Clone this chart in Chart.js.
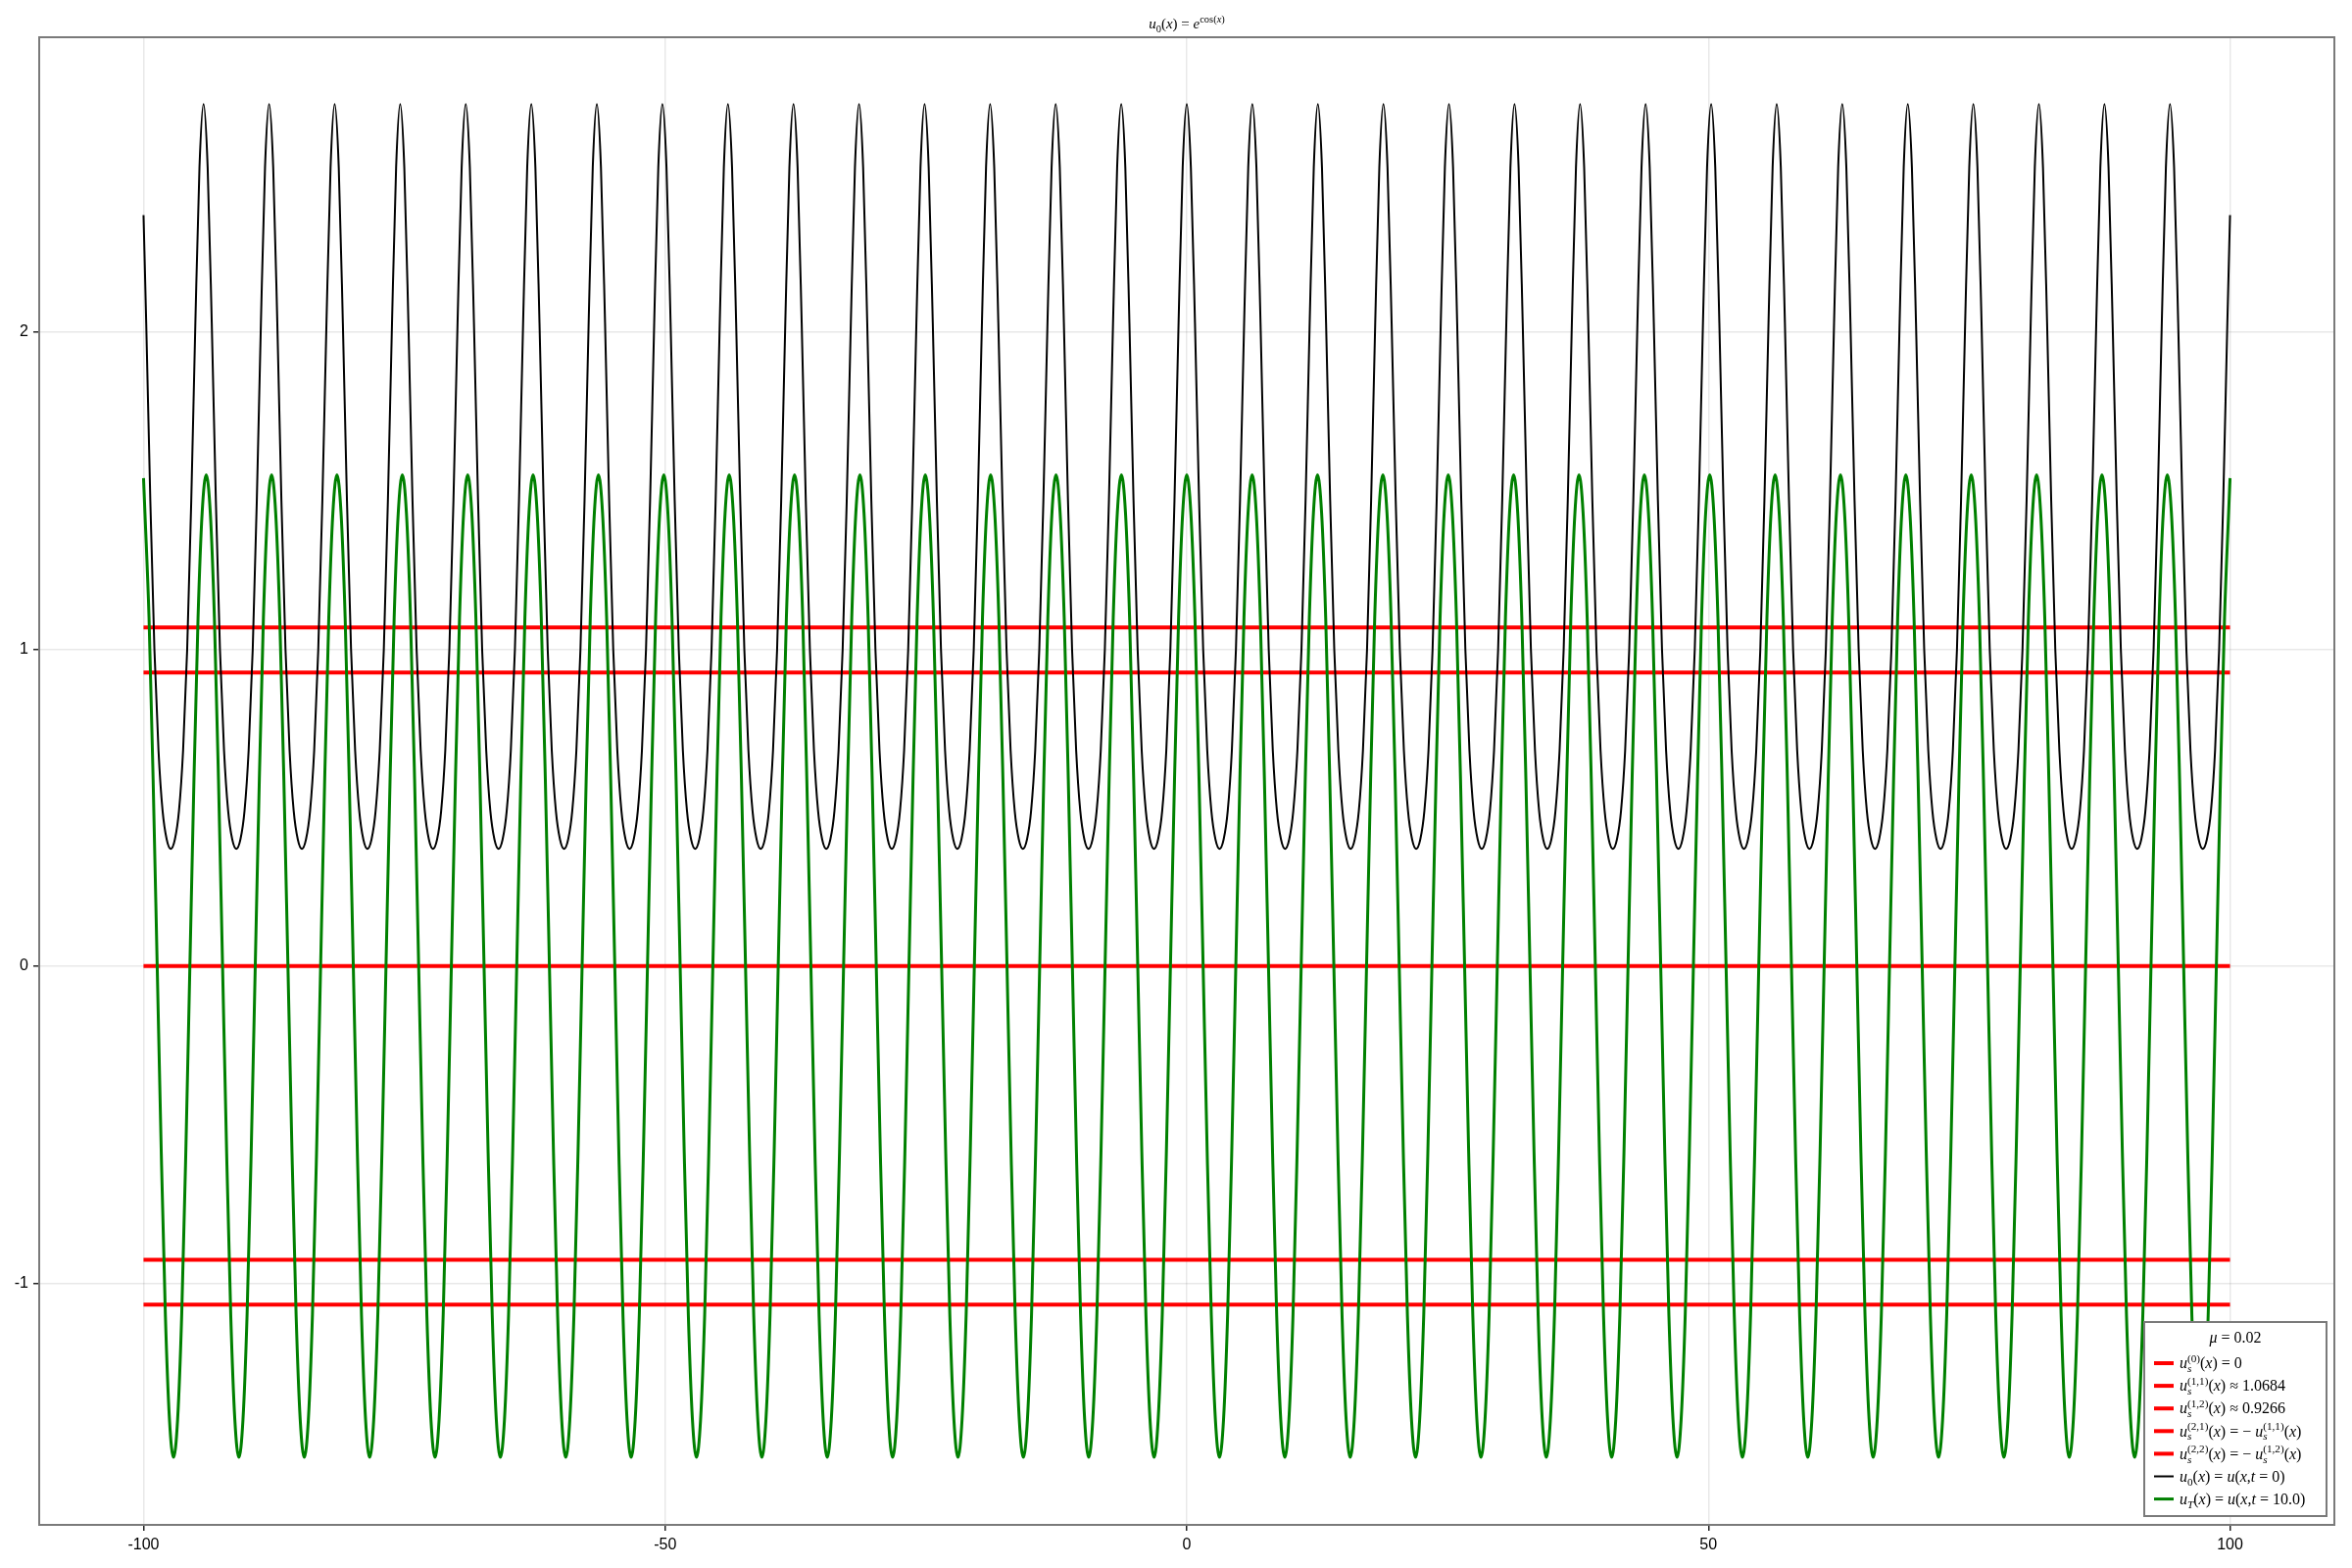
<!DOCTYPE html>
<html>
<head>
<meta charset="utf-8">
<script src="https://cdn.jsdelivr.net/npm/chart.js@4.4.1/dist/chart.umd.min.js"></script>
<style>
html, body { margin: 0; padding: 0; background: #fff; }
</style>
</head>
<body>
<canvas id="c" width="2400" height="1600"></canvas>
<script>
// values
const xRange = [-100, 100]
const xTicks = [-100, -50, 0, 50, 100]
const yTicks = [-1, 0, 1, 2]

// u0 = e^cos(x): one period (peak to peak), 16 samples
const u0Period = 6.283
const u0Profile = [2.72, 2.52, 2.03, 1.47, 1.00, 0.68, 0.49, 0.40, 0.37, 0.40, 0.49, 0.68, 1.00, 1.47, 2.03, 2.52]
const u0Ends = [2.37, 2.37]

// uT at t = 10: one wavelength (peak to peak), 16 samples
const uTPeriod = 6.266
const uTProfile = [1.55, 1.43, 1.10, 0.59, 0.00, -0.59, -1.10, -1.43, -1.55, -1.43, -1.10, -0.59, 0.00, 0.59, 1.10, 1.43]
const uTEnds = [1.54, 1.54]

// steady states
const steadyValues = [0, 1.0684, 0.9266, -1.0684, -0.9266]

const titleText = 'u_{0}(x) = e^{\\cos(x)}'
const legendTitle = 'μ = 0.02'
const legendLabels = [
	'u_{s}^{(0)}(x) = 0',
	'u_{s}^{(1,1)}(x) ≈ 1.0684',
	'u_{s}^{(1,2)}(x) ≈ 0.9266',
	'u_{s}^{(2,1)}(x) = − u_{s}^{(1,1)}(x)',
	'u_{s}^{(2,2)}(x) = − u_{s}^{(1,2)}(x)',
	'u_{0}(x) = u(x,t = 0)',
	'u_{T}(x) = u(x,t = 10.0)'
]

const RED = '#ff0000'
const GREEN = '#008000'
const BLACK = '#000000'

function buildSeries (period, profile, ends) {
	const pts = [{ x: xRange[0], y: ends[0] }]
	const step = period / profile.length
	const kStart = Math.floor(xRange[0] / period) - 1
	const kEnd = Math.ceil(xRange[1] / period) + 1
	for (let k = kStart; k <= kEnd; k++) {
		profile.forEach((v, j) => {
			const x = k * period + j * step
			if (x > xRange[0] + 0.05 && x < xRange[1] - 0.05) pts.push({ x: x, y: v })
		})
	}
	pts.push({ x: xRange[1], y: ends[1] })
	pts.sort((a, b) => a.x - b.x)
	return pts
}

const datasets = []
steadyValues.forEach((v, i) => {
	datasets.push({
		label: legendLabels[i],
		data: [{ x: xRange[0], y: v }, { x: xRange[1], y: v }],
		borderColor: RED,
		borderWidth: 4,
		pointRadius: 0,
		order: 3
	})
})
datasets.push({
	label: legendLabels[5],
	data: buildSeries(u0Period, u0Profile, u0Ends),
	borderColor: BLACK,
	borderWidth: 2,
	pointRadius: 0,
	cubicInterpolationMode: 'monotone',
	order: 2
})
datasets.push({
	label: legendLabels[6],
	data: buildSeries(uTPeriod, uTProfile, uTEnds),
	borderColor: GREEN,
	borderWidth: 3,
	pointRadius: 0,
	cubicInterpolationMode: 'monotone',
	order: 1
})

// tiny LaTeX-ish text: _{..} subscript, ^{..} superscript, \cos roman, letters italic
function parseMath (src) {
	const out = []
	let i = 0
	const readGroup = () => {
		if (src[i] === '{') {
			let d = 1
			let j = i + 1
			while (d) {
				if (src[j] === '{') d++
				else if (src[j] === '}') d--
				j++
			}
			const g = src.slice(i + 1, j - 1)
			i = j
			return g
		}
		return src[i++]
	}
	while (i < src.length) {
		const c = src[i]
		if (c === '_' || c === '^') {
			i++
			out.push({ t: readGroup(), lv: c === '_' ? -1 : 1 })
		} else {
			let j = i
			while (j < src.length && src[j] !== '_' && src[j] !== '^') j++
			out.push({ t: src.slice(i, j), lv: 0 })
			i = j
		}
	}
	return out
}

function pieces (text) {
	const res = []
	let i = 0
	while (i < text.length) {
		if (text.startsWith('\\cos', i)) { res.push(['cos', false]); i += 4; continue }
		const ch = text[i]
		res.push([ch, /[A-Za-zμ]/.test(ch)])
		i++
	}
	return res
}

const SERIF = '"Liberation Serif", "DejaVu Serif", serif'

function runWidth (ctx, text, size, draw, x, y) {
	let w = 0
	pieces(text).forEach(([ch, it]) => {
		ctx.font = (it ? 'italic ' : '') + size + 'px ' + SERIF
		if (draw) ctx.fillText(ch, x + w, y)
		w += ctx.measureText(ch).width
	})
	return w
}

function layoutMath (ctx, src, size, draw, x0, y0) {
	const toks = parseMath(src)
	let x = 0
	let lastSub = null
	const sm = size * 0.7
	toks.forEach((tk) => {
		if (tk.lv === 0) {
			x += runWidth(ctx, tk.t, size, draw, x0 + x, y0)
			lastSub = null
		} else if (tk.lv === -1) {
			const w = runWidth(ctx, tk.t, sm, draw, x0 + x, y0 + size * 0.24)
			lastSub = { start: x, w: w }
			x += w
		} else {
			let start = x
			let prevW = 0
			if (lastSub) { start = lastSub.start; prevW = lastSub.w }
			const w = runWidth(ctx, tk.t, sm, draw, x0 + start, y0 - size * 0.42)
			x = start + Math.max(prevW, w)
			lastSub = null
		}
	})
	return x
}

function drawMath (ctx, src, x, yMid, size, align) {
	ctx.textBaseline = 'alphabetic'
	ctx.textAlign = 'left'
	const w = layoutMath(ctx, src, size, false, 0, 0)
	let left = x
	if (align === 'center') left = x - w / 2
	layoutMath(ctx, src, size, true, left, yMid + size * 0.33)
}

const decorations = {
	id: 'decorations',
	afterDatasetsDraw (chart) {
		const ctx = chart.ctx
		const a = chart.chartArea
		ctx.save()
		// frame
		ctx.strokeStyle = '#7a7a7a'
		ctx.lineWidth = 2
		ctx.strokeRect(a.left, a.top, a.right - a.left, a.bottom - a.top)

		// title
		ctx.fillStyle = '#000'
		drawMath(ctx, titleText, (a.left + a.right) / 2, 24, 15, 'center')

		// legend
		const box = { x: 2188, y: 1349, w: 186, h: 198 }
		ctx.fillStyle = '#fff'
		ctx.fillRect(box.x, box.y, box.w, box.h)
		ctx.strokeStyle = '#7a7a7a'
		ctx.lineWidth = 2
		ctx.strokeRect(box.x, box.y, box.w, box.h)
		ctx.fillStyle = '#000'
		drawMath(ctx, legendTitle, box.x + box.w / 2, box.y + 16, 16, 'center')
		const colors = [RED, RED, RED, RED, RED, BLACK, GREEN]
		const widths = [4, 4, 4, 4, 4, 2, 3]
		legendLabels.forEach((lab, i) => {
			const y = box.y + 42 + i * 23.1
			ctx.strokeStyle = colors[i]
			ctx.lineWidth = widths[i]
			ctx.beginPath()
			ctx.moveTo(box.x + 10, y)
			ctx.lineTo(box.x + 30, y)
			ctx.stroke()
			ctx.fillStyle = '#000'
			drawMath(ctx, lab, box.x + 36, y, 16, 'left')
		})
		ctx.restore()
	}
}

new Chart(document.getElementById('c'), {
	type: 'line',
	data: { datasets: datasets },
	options: {
		responsive: false,
		animation: false,
		devicePixelRatio: 1,
		layout: { padding: { left: 0, right: 18, top: 38, bottom: 0 } },
		plugins: {
			legend: { display: false },
			tooltip: { enabled: false },
			title: { display: false }
		},
		scales: {
			x: {
				type: 'linear',
				min: -110,
				max: 110,
				afterFit: (s) => { s.height = 44 },
				afterBuildTicks: (s) => { s.ticks = xTicks.map(v => ({ value: v })) },
				grid: { color: 'rgba(0,0,0,0.09)', lineWidth: 1.5, tickColor: '#222', tickLength: 6, tickWidth: 1.5 },
				border: { display: false },
				ticks: {
					color: '#000',
					padding: 5,
					maxRotation: 0,
					font: { family: '"Liberation Sans", Arial, sans-serif', size: 16 },
					callback: (v) => String(v)
				}
			},
			y: {
				type: 'linear',
				min: -1.763,
				max: 2.931,
				afterFit: (s) => { s.width = 40 },
				afterBuildTicks: (s) => { s.ticks = yTicks.map(v => ({ value: v })) },
				grid: { color: 'rgba(0,0,0,0.09)', lineWidth: 1.5, tickColor: '#222', tickLength: 6, tickWidth: 1.5 },
				border: { display: false },
				ticks: {
					color: '#000',
					padding: 5,
					font: { family: '"Liberation Sans", Arial, sans-serif', size: 16 },
					callback: (v) => String(v)
				}
			}
		}
	},
	plugins: [decorations]
})
</script>
</body>
</html>
